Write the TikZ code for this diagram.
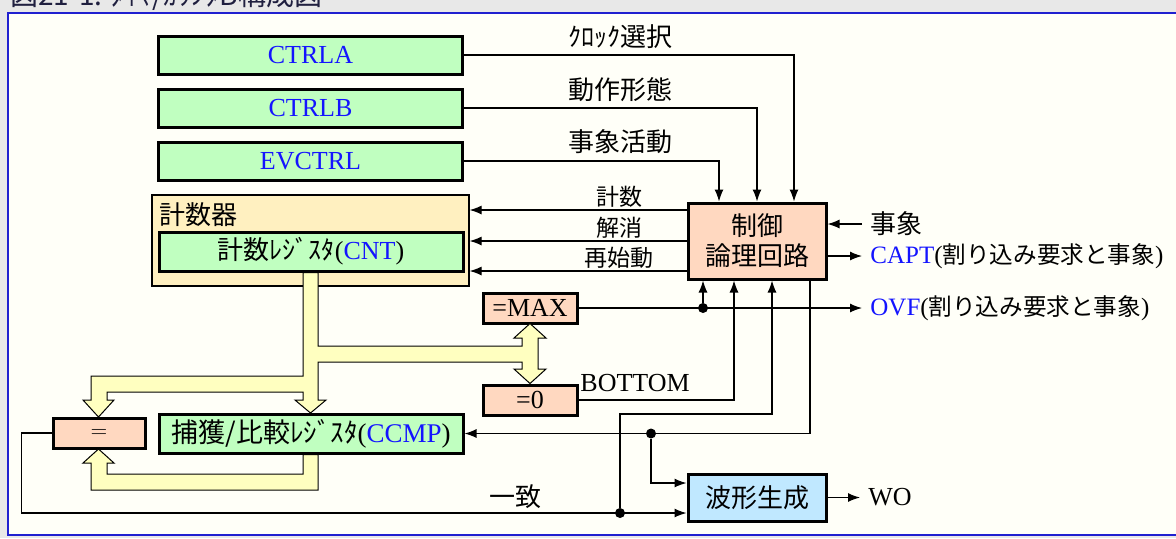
\documentclass[tikz,border=0pt]{standalone}
\usepackage{fontspec}
\setmainfont{Liberation Serif}
\newfontfamily\jpfont{Noto Sans CJK JP}
\usepackage{xcolor}
\usepackage{tikz}
\usetikzlibrary{shapes,arrows.meta}

\definecolor{regfill}{HTML}{C0FFC0}
\definecolor{logicfill}{HTML}{FFD8C0}
\definecolor{cntfill}{HTML}{FFF0C0}
\definecolor{busfill}{HTML}{FFFFC0}
\definecolor{wavefill}{HTML}{C0E8FF}
\definecolor{regblue}{HTML}{1414FF}
\definecolor{framebg}{HTML}{FFFFF8}
\definecolor{pagebg}{HTML}{E8E8E8}
\definecolor{frameblue}{HTML}{2020D0}
\definecolor{titlecol}{HTML}{202040}

\newcommand{\jp}[1]{{\jpfont #1}}
\newcommand{\regname}[1]{\textcolor{regblue}{#1}}

\begin{document}
\begin{tikzpicture}[x=0.5pt, y=-0.5pt,
    block/.style={rectangle, draw, line width=1.5pt, inner sep=0pt, align=center, font=\fontsize{13}{15}\selectfont},
    reg/.style={block, fill=regfill, minimum width=152pt, minimum height=19pt},
    logic/.style={block, fill=logicfill},
    line/.style={draw, line width=0.6pt, -{Latex[length=6pt,width=4.5pt]}},
    bus/.style={draw, line width=0.5pt, fill=busfill},
    dot/.style={circle, fill, inner sep=0pt, minimum size=5pt},
    lbl/.style={inner sep=1pt, font=\fontsize{13}{15}\selectfont},
    irq/.style={lbl, anchor=west, font=\fontsize{12.5}{15}\selectfont},
    small/.style={inner sep=1pt, font=\fontsize{11.5}{13}\selectfont}]

    % Page and frame
    \fill[pagebg] (0,0) rectangle (1176,538);
    \useasboundingbox (0,0) rectangle (1176,538);
    \clip (0,0) rectangle (1176,538);
    \fill[framebg] (8,13) rectangle (1190,535);
    \draw[frameblue, line width=0.8pt] (1190,13) -- (8,13) -- (8,535) -- (1190,535);
    \node[anchor=base west, inner sep=0pt, text=titlecol, font=\jpfont\fontsize{14}{16}\selectfont] (title) at (10,5.5) {図21-1. ﾀｲﾏ/ｶｳﾝﾀB構成図};

    % Nodes
    \node [reg] (ctrla) at (310.5,55) {\regname{CTRLA}};
    \node [reg] (ctrlb) at (310.5,108) {\regname{CTRLB}};
    \node [reg] (evctrl) at (310.5,161) {\regname{EVCTRL}};
    \node [rectangle, draw, line width=0.6pt, fill=cntfill, minimum width=158.5pt, minimum height=45.5pt] (counter) at (310.5,240.5) {};
    \node [lbl, anchor=west] (counterlbl) at (157,215) {\jp{計数器}};
    \node [reg, minimum height=19.5pt] (cnt) at (311,251.5) {\jp{計数ﾚｼﾞｽﾀ}(\regname{CNT})};
    \node [logic, minimum width=69pt, minimum height=38pt] (ctrl) at (757,241) {\jp{制御}\\\jp{論理回路}};
    \node [logic, minimum width=47pt, minimum height=15pt] (max) at (530,308) {=MAX};
    \node [logic, minimum width=47pt, minimum height=15pt] (zero) at (530,400) {=0};
    \node [logic, minimum width=46pt, minimum height=15pt, font=\sffamily\fontsize{11}{13}\selectfont] (eq) at (99,433) {=};
    \node [reg, minimum height=19.5pt, font=\fontsize{13.5}{15}\selectfont] (ccmp) at (311,433.5) {\jp{捕獲/比較ﾚｼﾞｽﾀ}(\regname{CCMP})};
    \node [block, fill=wavefill, minimum width=69pt, minimum height=23.5pt] (wave) at (757,497.5) {\jp{波形生成}};

    % Buses
    \path [bus] (303,272.5) -- (318,272.5) -- (318,346) -- (522,346) -- (522,338) -- (514,338)
        -- (530,323.5) -- (546,338) -- (538,338) -- (538,369) -- (546,369) -- (530,383.5)
        -- (514,369) -- (522,369) -- (522,362) -- (318,362) -- (318,400) -- (326,400)
        -- (310.5,413) -- (295,400) -- (303,400) -- (303,392) -- (107,392) -- (107,400)
        -- (114,400) -- (98.5,417) -- (83,400) -- (91,400) -- (91,376) -- (303,376) -- cycle;
    \path [bus] (303,454.5) -- (318,454.5) -- (318,490) -- (91,490) -- (91,463) -- (83,463)
        -- (98.5,449) -- (114,463) -- (107,463) -- (107,474) -- (303,474) -- cycle;

    % Free ends
    \coordinate (evtin) at (862,224);
    \coordinate (captout) at (862,256);
    \coordinate (ovfout) at (862,308);
    \coordinate (woout) at (860,497.5);
    \coordinate (c1) at ([yshift=15.5pt]ctrl.west);
    \coordinate (c2) at (ctrl.west);
    \coordinate (c3) at ([yshift=-15pt]ctrl.west);
    \node [dot] (ovfdot) at (703,308) {};
    \node [dot] (matchdot) at (620,513) {};
    \node [dot] (capdot) at (651,433.5) {};

    % Paths
    \path [line] (ctrla.east) -| ([xshift=18.5pt]ctrl.north);
    \path [line] (ctrlb.east) -| (ctrl.north);
    \path [line] (evctrl.east) -| ([xshift=-19pt]ctrl.north);
    \path [line] (c1) -- node [small, above, pos=0.31] {\jp{計数}} (counter.east |- c1);
    \path [line] (c2) -- node [small, above, pos=0.31] {\jp{解消}} (counter.east |- c2);
    \path [line] (c3) -- node [small, above, pos=0.31] {\jp{再始動}} (counter.east |- c3);
    \path [line] (evtin) -- (ctrl.east |- evtin);
    \path [line] (ctrl.east |- captout) -- (captout);
    \path [line] (max.east) -- (ovfout);
    \path [line] (ovfdot) -- (ovfdot |- ctrl.south);
    \path [line] (zero.east) -| ([xshift=-11.5pt]ctrl.south);
    \path [line] (matchdot) -- (620,414) -| ([xshift=7.5pt]ctrl.south);
    \path [line] ([xshift=26.5pt]ctrl.south) |- (ccmp.east);
    \path [line] (capdot) |- ([yshift=7.25pt]wave.west);
    \path [line] (eq.west) -- ++(-30,0) |- ([yshift=-7.75pt]wave.west);
    \path [line] (wave.east) -- (woout);

    % Labels
    \node [lbl] (clklbl) at (620,37) {\jp{ｸﾛｯｸ選択}};
    \node [lbl] (modelbl) at (620,90) {\jp{動作形態}};
    \node [lbl] (evactlbl) at (620,142) {\jp{事象活動}};
    \node [lbl, anchor=west] (evtlbl) at (868,224) {\jp{事象}};
    \node [irq] (captlbl) at (868,256) {\regname{CAPT}(\jp{\fontsize{11.8}{15}\selectfont 割り込み要求と事象})};
    \node [irq] (ovflbl) at (868,308) {\regname{OVF}(\jp{\fontsize{11.8}{15}\selectfont 割り込み要求と事象})};
    \node [lbl, anchor=west] (btmlbl) at (578,383) {BOTTOM};
    \node [lbl] (matchlbl) at (515,497) {\jp{一致}};
    \node [lbl, anchor=west] (wolbl) at (866,497.5) {WO};

\end{tikzpicture}
\end{document}
